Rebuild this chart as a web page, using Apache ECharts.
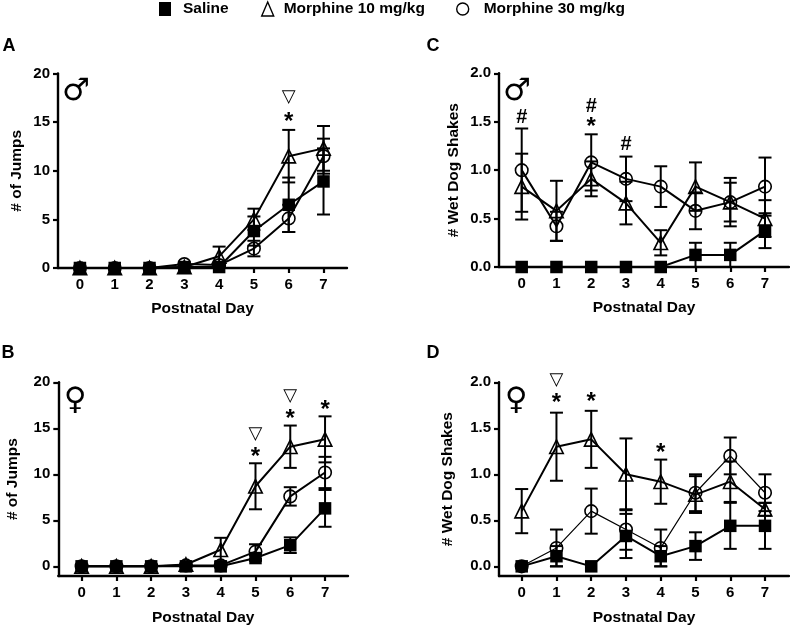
<!DOCTYPE html>
<html>
<head>
<meta charset="utf-8">
<style>html,body{margin:0;padding:0;background:#fff}#c{width:790px;height:626px}</style>
<script src="https://cdn.jsdelivr.net/npm/echarts@6/dist/echarts.min.js"></script>
</head>
<body>
<div id="c"></div>
<script>
const days = [0,1,2,3,4,5,6,7];
const legendNames = ['Saline','Morphine 10 mg/kg','Morphine 30 mg/kg'];
const xLabel = 'Postnatal Day';
const jumpsLabel = '# of Jumps';
const shakesLabel = '# Wet Dog Shakes';
const jumpTicks = [0,5,10,15,20];
const shakeTicks = [0,0.5,1,1.5,2];

// Panel A
const aSaline = [0,0,0,0.1,0.1,3.8,6.5,8.9];
const aSalineErr = [0,0,0,0,0,1.5,2.8,3.4];
const aM10 = [0,0,0,0.1,1.2,5,11.5,12.3];
const aM10Err = [0,0,0,0,1,1.1,2.7,2.3];
const aM30 = [0,0,0,0.4,0.3,2,5.1,11.5];
const aM30Err = [0,0,0,0,0.2,0.8,1.4,1.8];
const aMarks = [[6,17.5,'▽'],[6,15,'*']];

// Panel B
const bSaline = [0,0,0,0,0,0.9,2.3,6.3];
const bSalineErr = [0,0,0,0,0,0.3,0.85,2];
const bM10 = [0,0,0,0.2,1.8,8.7,13,13.8];
const bM10Err = [0,0,0,0,1.3,2.5,2.3,2.5];
const bM30 = [0,0,0,0.1,0.1,1.6,7.6,10.2];
const bM30Err = [0,0,0,0,0,0.8,1,1.7];
const bMarks = [[5,14.3,'▽'],[5,11.85,'*'],[6,18.45,'▽'],[6,16,'*'],[7,16.95,'*']];

// Panel C
const cSaline = [0,0,0,0,0,0.125,0.125,0.375];
const cSalineErr = [0,0,0,0,0,0.125,0.125,0.18];
const cM10 = [0.83,0.58,0.91,0.66,0.25,0.83,0.67,0.5];
const cM10Err = [0.34,0.31,0.18,0.22,0.13,0.25,0.25,0.19];
const cM30 = [1,0.42,1.08,0.91,0.83,0.58,0.67,0.83];
const cM30Err = [0.43,0.15,0.29,0.23,0.21,0.19,0.2,0.3];
const cMarks = [[0,1.54,'#'],[2,1.66,'#'],[2,1.44,'*'],[3,1.26,'#']];

// Panel D
const dSaline = [0,0.11,0,0.33,0.11,0.22,0.44,0.44];
const dSalineErr = [0,0.11,0,0.24,0.11,0.15,0.25,0.25];
const dM10 = [0.6,1.3,1.38,1,0.92,0.78,0.92,0.62];
const dM10Err = [0.24,0.37,0.31,0.39,0.24,0.2,0.22,0.07];
const dM30 = [0,0.2,0.6,0.4,0.2,0.8,1.2,0.8];
const dM30Err = [0,0.2,0.245,0.22,0.2,0.2,0.2,0.2];
const dMarks = [[1,2.02,'▽'],[1,1.77,'*'],[2,1.78,'*'],[4,1.23,'*']];

const FONT = '"Liberation Sans", Arial, sans-serif';
const panels = [
  {left:58,  top:73.5,  w:289, h:194.5, xMin:-0.63, xMax:7.675, yMin:0, yMax:20, ticks:jumpTicks, dec:0, name:jumpsLabel, gap:33, xGap:33,
   s:[aM10,aM10Err,aM30,aM30Err,aSaline,aSalineErr], marks:aMarks, thin:2},
  {left:58.3,top:382.3, w:289.7,h:193.7, xMin:-0.67, xMax:7.66, yMin:-1.05, yMax:20, ticks:jumpTicks, dec:0, name:jumpsLabel, gap:38, xGap:34,
   s:[bM10,bM10Err,bM30,bM30Err,bSaline,bSalineErr], marks:bMarks, thin:2},
  {left:499, top:73.3,  w:290, h:193.7, xMin:-0.653, xMax:7.69, yMin:0, yMax:2, ticks:shakeTicks, dec:1, name:shakesLabel, gap:37, xGap:33,
   s:[cM10,cM10Err,cM30,cM30Err,cSaline,cSalineErr], marks:cMarks, thin:2},
  {left:499, top:382.3, w:290, h:193.7, xMin:-0.653, xMax:7.69, yMin:-0.105, yMax:2, ticks:shakeTicks, dec:1, name:shakesLabel, gap:43, xGap:34,
   s:[dM10,dM10Err,dM30,dM30Err,dSaline,dSalineErr], marks:dMarks, thin:1.2}
];

const axisLine = {show:true, onZero:false, lineStyle:{color:'#000', width:2.4}};
const axisTick = {show:true, length:5, lineStyle:{color:'#000', width:2.2}};
const grids=[], xAxes=[], yAxes=[], series=[];

function errorSeries(i, vals, errs){
  return {
    type:'custom', xAxisIndex:i, yAxisIndex:i, silent:true, z:2, clip:false,
    data: days.map((d,k)=>[d, vals[k], errs[k]]),
    renderItem(params, api){
      const x=api.value(0), y=api.value(1), e=api.value(2);
      if(!e) return null;
      const hi=api.coord([x,y+e]), lo=api.coord([x,y-e]);
      const c=6.5, st={stroke:'#000', lineWidth:2, fill:null};
      return {type:'group', children:[
        {type:'line', shape:{x1:hi[0],y1:hi[1],x2:lo[0],y2:lo[1]}, style:st},
        {type:'line', shape:{x1:hi[0]-c,y1:hi[1],x2:hi[0]+c,y2:hi[1]}, style:st},
        {type:'line', shape:{x1:lo[0]-c,y1:lo[1],x2:lo[0]+c,y2:lo[1]}, style:st}
      ]};
    }
  };
}

function lineSeries(i, name, vals, kind, w){
  const solid = kind==='rect';
  return {
    type:'line', name, xAxisIndex:i, yAxisIndex:i, z:3, clip:false,
    data: days.map((d,k)=>[d,vals[k]]),
    symbol:kind, symbolSize: kind==='rect'?12.5:(kind==='triangle'?13.5:12.5),
    showAllSymbol:true, animation:false,
    lineStyle:{color:'#000', width:w},
    itemStyle:{color: solid?'#000':'rgba(0,0,0,0)', borderColor:'#000', borderWidth: solid?0:1.6}
  };
}

panels.forEach((p,i)=>{
  grids.push({left:p.left, top:p.top, width:p.w, height:p.h, containLabel:false, outerBoundsMode:'none'});
  xAxes.push({type:'value', gridIndex:i, min:p.xMin, max:p.xMax, splitLine:{show:false},
    axisLine, axisTick:{...axisTick, customValues:days},
    axisLabel:{customValues:days, color:'#000', fontFamily:FONT, fontWeight:'bold', fontSize:15, margin:9},
    name:xLabel, nameLocation:'middle', nameGap:p.xGap,
    nameTextStyle:{color:'#000', fontFamily:FONT, fontWeight:'bold', fontSize:15.5}});
  yAxes.push({type:'value', gridIndex:i, min:p.yMin, max:p.yMax, splitLine:{show:false},
    axisLine, axisTick:{...axisTick, customValues:p.ticks},
    axisLabel:{customValues:p.ticks, color:'#000', fontFamily:FONT, fontWeight:'bold', fontSize:15, margin:8,
      formatter:v=>Number(v).toFixed(p.dec)},
    name:p.name, nameLocation:'middle', nameGap:p.gap, nameRotate:90,
    nameTextStyle:{color:'#000', fontFamily:FONT, fontWeight:'bold', fontSize:15.5}});
  series.push(errorSeries(i,p.s[0],p.s[1]));
  series.push(errorSeries(i,p.s[2],p.s[3]));
  series.push(errorSeries(i,p.s[4],p.s[5]));
  series.push(lineSeries(i,legendNames[1],p.s[0],'triangle',2));
  series.push(lineSeries(i,legendNames[2],p.s[2],'circle',p.thin));
  series.push(lineSeries(i,legendNames[0],p.s[4],'rect',2));
  series.push({
    type:'custom', xAxisIndex:i, yAxisIndex:i, silent:true, z:4, clip:false,
    data:p.marks.map(m=>[m[0],m[1]]),
    renderItem(params, api){
      const m=p.marks[params.dataIndex], c=api.coord([m[0],m[1]]), tri=m[2]==='▽';
      return {type:'text', style:{x:c[0], y:c[1], text:m[2], align:'center', verticalAlign:'middle',
        fill:'#000', font: tri?'18px "DejaVu Sans"':(m[2]==='*'?'bold 24px '+FONT:'bold 20px '+FONT)}};
    }
  });
});

function legendAt(left, name, icon, solid, pad){
  return {left, top:1, itemWidth:12, itemHeight:14, padding:0, itemGap:0, selectedMode:false,
    data:[{name, icon, itemStyle:{color:solid?'#000':'rgba(0,0,0,0)', borderColor:'#000', borderWidth:solid?0:1.4}}],
    lineStyle:{opacity:0, width:0},
    textStyle:{color:'#000', fontFamily:FONT, fontWeight:'bold', fontSize:15.5, padding:[0,0,0,pad]}};
}

const txt=(x,y,text,font)=>({type:'text', x, y, silent:true,
  style:{text, fill:'#000', font, align:'center', verticalAlign:'middle'}});

const chart = echarts.init(document.getElementById('c'), null, {renderer:'canvas'});
chart.setOption({
  animation:false, backgroundColor:'#fff',
  grid:grids, xAxis:xAxes, yAxis:yAxes, series,
  legend:[legendAt(159,legendNames[0],'rect',true,7), legendAt(261,legendNames[1],'triangle',false,5), legendAt(456,legendNames[2],'circle',false,10)],
  graphic:[
    txt(9,46,'A','bold 18px '+FONT), txt(8,353,'B','bold 18px '+FONT),
    txt(433,46,'C','bold 18px '+FONT), txt(433,353,'D','bold 18px '+FONT),
    txt(76,92,'♂','31px "DejaVu Sans"'), txt(75,401,'♀','31px "DejaVu Sans"'),
    txt(517,92,'♂','31px "DejaVu Sans"'), txt(516,401,'♀','31px "DejaVu Sans"')
  ]
});
</script>
</body>
</html>
